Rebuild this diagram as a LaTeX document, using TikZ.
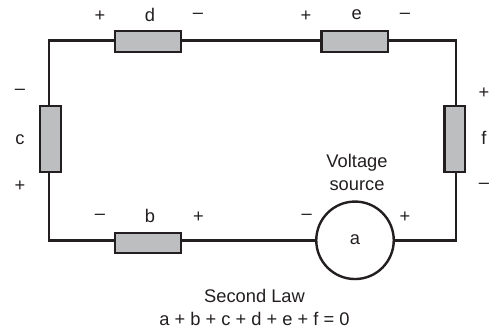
\documentclass[tikz,border=0pt]{standalone}
\usepackage{fontspec}
\setmainfont{Liberation Sans}
\definecolor{boxgray}{RGB}{188,190,192}
\definecolor{inkdark}{RGB}{35,31,32}
\tikzset{
 x=1pt,y=-1pt,
 wire/.style={line width=2.4pt,inkdark,line join=miter},
 hbox/.style={draw=inkdark,fill=boxgray,line width=2.4pt,minimum width=66.5pt,minimum height=20.5pt,inner sep=0pt},
 vbox/.style={draw=inkdark,fill=boxgray,line width=2.4pt,minimum width=20.5pt,minimum height=66.5pt,inner sep=0pt},
 src/.style={circle,draw=inkdark,fill=white,line width=2.4pt,minimum size=77.5pt,inner sep=0pt},
 lab/.style={font=\fontsize{18.3}{23}\selectfont,text=inkdark,inner sep=0pt,align=center},
}
\begin{document}
\begin{tikzpicture}
\useasboundingbox (0,0) rectangle (489,331);
\coordinate (tl) at (49,40.5);
\coordinate (tr) at (456,40.5);
\coordinate (bl) at (49,240.3);
\coordinate (br) at (456,240.3);
\node[hbox] (d) at (148,41.5) {};
\node[hbox] (e) at (354.7,41.5) {};
\node[hbox] (b) at (148,243) {};
\node[vbox] (c) at (50.5,139) {};
\node[vbox] (f) at (454.7,139) {};
\node[src] (a) at (355,240.3) {};
\draw[wire] (c.north -| tl) -- (tl) -- (d.west |- tl);
\draw[wire] (d.east |- tl) -- (e.west |- tl);
\draw[wire] (e.east |- tl) -- (tr) -- (f.north -| tr);
\draw[wire] (f.south -| br) -- (br) -- (a.east);
\draw[wire] (a.west) -- (b.east |- bl);
\draw[wire] (b.west |- bl) -- (bl) -- (c.south -| bl);
\node[lab] (ta) at (355,240) {a};
\node[lab] (tb) at (150,216) {b};
\node[lab] (tc) at (20,140) {c};
\node[lab] (td) at (150,15) {d};
\node[lab] (te) at (356.7,15) {e};
\node[lab] (tf) at (484,138) {f};
\node[lab] (v) at (357,172.5) {Voltage\\source};
\node[lab] (p1) at (100,16) {+};
\node[lab] (m1) at (198,15.5) {--};
\node[lab] (p2) at (306,16) {+};
\node[lab] (m2) at (405,15.5) {--};
\node[lab] (m3) at (20,92) {--};
\node[lab] (p3) at (20,186) {+};
\node[lab] (p4) at (484,93) {+};
\node[lab] (m4) at (484,186) {--};
\node[lab] (m5) at (100,216.7) {--};
\node[lab] (p5) at (198.5,217) {+};
\node[lab] (m6) at (306.7,216.7) {--};
\node[lab] (p6) at (405,217) {+};
\node[lab] (law) at (254.5,307.5) {Second Law\\a + b + c + d + e + f = 0};
\end{tikzpicture}
\end{document}
